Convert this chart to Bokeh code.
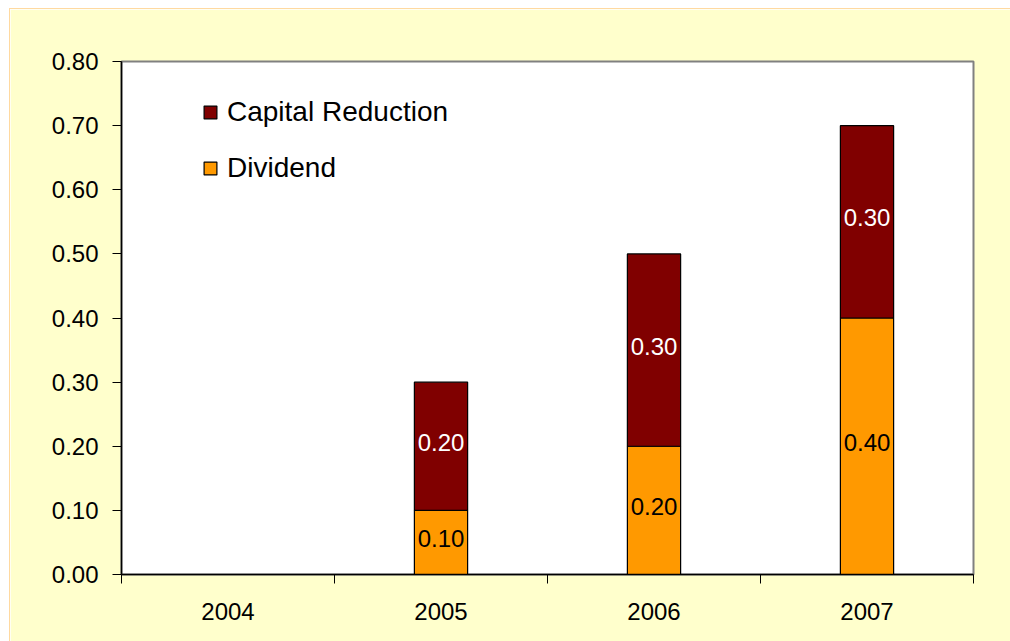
from bokeh.plotting import figure
from bokeh.models import (ColumnDataSource, FixedTicker, NumeralTickFormatter,
                          Range1d, Legend, LegendItem, LabelSet)
from bokeh.core.properties import value
from bokeh.embed import file_html
from bokeh.resources import INLINE

years = ["2004", "2005", "2006", "2007"]
dividend = [0.0, 0.10, 0.20, 0.40]
capital_reduction = [0.0, 0.20, 0.30, 0.30]
y_ticks = [0.0, 0.1, 0.2, 0.3, 0.4, 0.5, 0.6, 0.7, 0.8]

FONT = "Liberation Sans"
YELLOW = "#FFFFCC"
ORANGE = "#FF9900"
DARKRED = "#800000"

n = len(years)
xc = [i + 0.5 for i in range(n)]
src = ColumnDataSource(dict(x=xc, dividend=dividend, capital=capital_reduction))

p = figure(width=1001, height=633, output_backend="svg", toolbar_location=None,
           x_range=Range1d(0, n), y_range=Range1d(0, 0.8),
           min_border_left=111, min_border_right=38, min_border_top=52,
           min_border_bottom=68, border_fill_color=YELLOW,
           background_fill_color="white", margin=(8, 0, 0, 9),
           styles={"border-left": "1px solid #FFD9A0", "border-top": "1px solid #FFD9A0"})
p.outline_line_color = "#808080"
p.outline_line_width = 2
p.grid.visible = False

r = p.vbar_stack(["dividend", "capital"], x="x", width=0.25, source=src,
                 fill_color=[ORANGE, DARKRED], line_color="black", line_width=1.2)

# labels
lab_div = ColumnDataSource(dict(
    x=[x for x, d in zip(xc, dividend) if d > 0],
    y=[d / 2 for d in dividend if d > 0],
    t=["%.2f" % d for d in dividend if d > 0]))
lab_cap = ColumnDataSource(dict(
    x=[x for x, c in zip(xc, capital_reduction) if c > 0],
    y=[d + c / 2 for d, c in zip(dividend, capital_reduction) if c > 0],
    t=["%.2f" % c for c in capital_reduction if c > 0]))
p.add_layout(LabelSet(x="x", y="y", text="t", source=lab_div, text_align="center",
                      text_baseline="middle", text_font=value(FONT), y_offset=4,
                      text_font_size="24px", text_color="black"))
p.add_layout(LabelSet(x="x", y="y", text="t", source=lab_cap, text_align="center",
                      text_baseline="middle", text_font=value(FONT), y_offset=4,
                      text_font_size="24px", text_color="white"))

# axes
xa = p.xaxis[0]
xa.ticker = FixedTicker(ticks=xc, minor_ticks=list(range(n + 1)))
xa.major_label_overrides = {x: y for x, y in zip(xc, years)}
xa.major_tick_line_color = None
xa.major_tick_out = 0
xa.minor_tick_out = 9
xa.minor_tick_in = 0
xa.minor_tick_line_color = "black"
xa.axis_line_color = "black"
xa.axis_line_width = 1.5
xa.major_label_standoff = 19
xa.major_label_text_font = FONT
xa.major_label_text_font_size = "24px"
xa.major_label_text_color = "black"

ya = p.yaxis[0]
ya.ticker = FixedTicker(ticks=y_ticks)
ya.formatter = NumeralTickFormatter(format="0.00")
ya.major_tick_out = 9
ya.major_tick_in = 0
ya.minor_tick_line_color = None
ya.axis_line_color = "black"
ya.axis_line_width = 1.5
ya.major_label_standoff = 14
ya.major_label_text_font = FONT
ya.major_label_text_font_size = "24px"
ya.major_label_text_color = "black"

legend = Legend(items=[LegendItem(label="Capital Reduction", renderers=[r[1]]),
                       LegendItem(label="Dividend", renderers=[r[0]])],
                location=(81, 390), background_fill_alpha=0, border_line_color=None,
                padding=0, margin=0, spacing=24, glyph_width=16, glyph_height=16,
                label_height=24, label_standoff=9, label_text_font=FONT,
                label_text_font_size="28px", label_text_color="black")
p.add_layout(legend)

open("out.html", "w").write(file_html(p, INLINE))
